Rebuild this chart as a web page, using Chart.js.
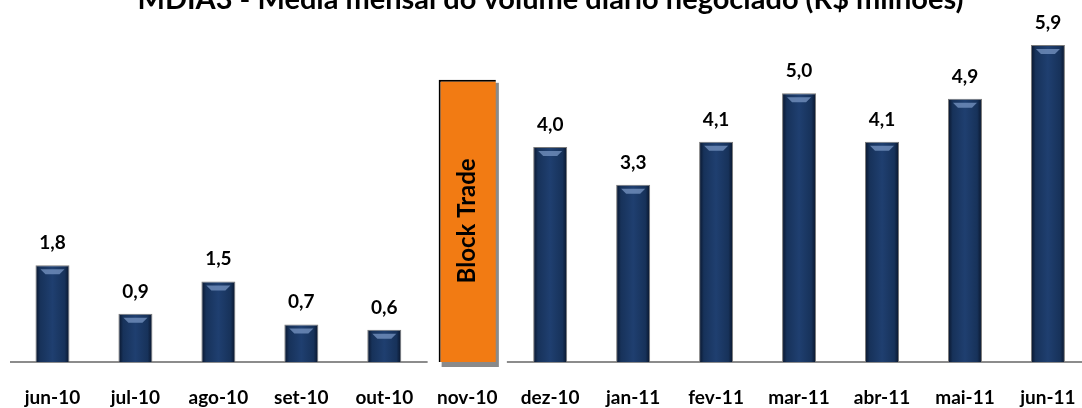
<!DOCTYPE html>
<html>
<head>
<meta charset="utf-8">
<script src="https://cdn.jsdelivr.net/npm/chart.js@4"></script>
<style>
    body { margin: 0; background: #fff; overflow: hidden; width: 1082px; height: 408px; }
    #wrap { position: absolute; left: 0; top: -20px; }
</style>
</head>
<body>
<div id="wrap"><canvas id="mainChart" width="1100" height="430"></canvas></div>
<script>
// Data
const months = ['jun-10', 'jul-10', 'ago-10', 'set-10', 'out-10', 'nov-10', 'dez-10', 'jan-11', 'fev-11', 'mar-11', 'abr-11', 'mai-11', 'jun-11'];
const volume = [1.8, 0.9, 1.5, 0.7, 0.6, null, 4.0, 3.3, 4.1, 5.0, 4.1, 4.9, 5.9];
const blockTrade = [null, null, null, null, null, 5.25, null, null, null, null, null, null, null];
const blockTradeLabel = 'Block Trade';
const chartTitle = 'MDIA3 - Média mensal do volume diário negociado (R$ milhões)';

const FONT = 'Lato, "Open Sans", sans-serif';
const BAR_PCT = 0.41;
const BLOCK_PCT = 0.69;

// horizontal gradient for the navy bars
function navyGradient(ctx) {
    const chart = ctx.chart;
    if (!chart.chartArea || ctx.type !== 'data') return '#1c3a66';
    const x = chart.scales.x.getPixelForValue(ctx.dataIndex);
    const half = (chart.scales.x.width / months.length) * BAR_PCT / 2;
    const g = chart.ctx.createLinearGradient(x - half, 0, x + half, 0);
    g.addColorStop(0, '#08142a');
    g.addColorStop(0.14, '#17325a');
    g.addColorStop(0.5, '#1f3f70');
    g.addColorStop(0.86, '#17325a');
    g.addColorStop(1, '#08142a');
    return g;
}

// white gap + shadow behind the block trade box, labels on top
const barDecor = {
    id: 'barDecor',
    beforeDatasetsDraw(chart) {
        const c = chart.ctx;
        chart.getDatasetMeta(1).data.forEach((el, i) => {
            if (blockTrade[i] == null) return;
            const left = el.x - el.width / 2, top = el.y;
            c.save();
            c.fillStyle = '#fff';
            c.fillRect(left - 11, top, el.width + 22, el.base - top + 4);
            c.fillStyle = '#8a8a8a';
            c.fillRect(left + 3, top + 3, el.width, el.base - top + 2);
            c.restore();
        });
    },
    afterDatasetsDraw(chart) {
        const c = chart.ctx;
        // highlight on top of navy bars + value labels
        chart.getDatasetMeta(0).data.forEach((el, i) => {
            if (volume[i] == null) return;
            const left = el.x - el.width / 2, w = el.width;
            c.save();
            c.fillStyle = 'rgba(120,150,195,0.75)';
            c.beginPath();
            c.moveTo(left + 5, el.y + 4);
            c.lineTo(left + w - 5, el.y + 4);
            c.lineTo(left + w - 10, el.y + 9);
            c.lineTo(left + 10, el.y + 9);
            c.closePath();
            c.fill();
            c.fillStyle = '#000';
            c.font = 'bold 19px ' + FONT;
            c.textAlign = 'center';
            c.textBaseline = 'alphabetic';
            c.fillText(volume[i].toFixed(1).replace('.', ','), el.x, el.y - 16);
            c.restore();
        });
        // rotated text in the block trade box
        chart.getDatasetMeta(1).data.forEach((el, i) => {
            if (blockTrade[i] == null) return;
            c.save();
            c.translate(el.x, (el.y + el.base) / 2);
            c.rotate(-Math.PI / 2);
            c.fillStyle = '#000';
            c.font = 'bold 24px ' + FONT;
            c.textAlign = 'center';
            c.textBaseline = 'middle';
            c.fillText(blockTradeLabel, 0, 0);
            c.restore();
        });
    }
};

new Chart(document.getElementById('mainChart').getContext('2d'), {
    type: 'bar',
    data: {
        labels: months,
        datasets: [{
            data: volume,
            backgroundColor: navyGradient,
            borderColor: '#7a7a7a',
            borderWidth: 1,
            barPercentage: BAR_PCT,
            categoryPercentage: 1
        }, {
            data: blockTrade,
            backgroundColor: '#f27b13',
            borderColor: '#000',
            borderWidth: { left: 2, top: 2, right: 0, bottom: 0 },
            borderSkipped: false,
            barPercentage: BLOCK_PCT,
            categoryPercentage: 1
        }]
    },
    options: {
        responsive: false,
        animation: false,
        devicePixelRatio: 1,
        layout: { padding: { left: 11, right: 10, bottom: 0 } },
        datasets: { bar: { grouped: false } },
        plugins: {
            legend: { display: false },
            tooltip: { enabled: false },
            title: {
                display: true,
                text: chartTitle,
                color: '#000',
                font: { family: FONT, size: 29, weight: 'bold' },
                padding: { top: 2.5, bottom: 0.7 }
            }
        },
        scales: {
            x: {
                afterFit: (scale) => { scale.height = 48; },
                grid: { display: false, drawTicks: false },
                border: { display: true, color: '#8c8c8c', width: 2 },
                ticks: {
                    color: '#000',
                    padding: 24,
                    maxRotation: 0,
                    autoSkip: false,
                    font: { family: FONT, size: 19, weight: 'bold' }
                }
            },
            y: { display: false, min: 0, max: 6.4 }
        }
    },
    plugins: [barDecor]
});
</script>
</body>
</html>
